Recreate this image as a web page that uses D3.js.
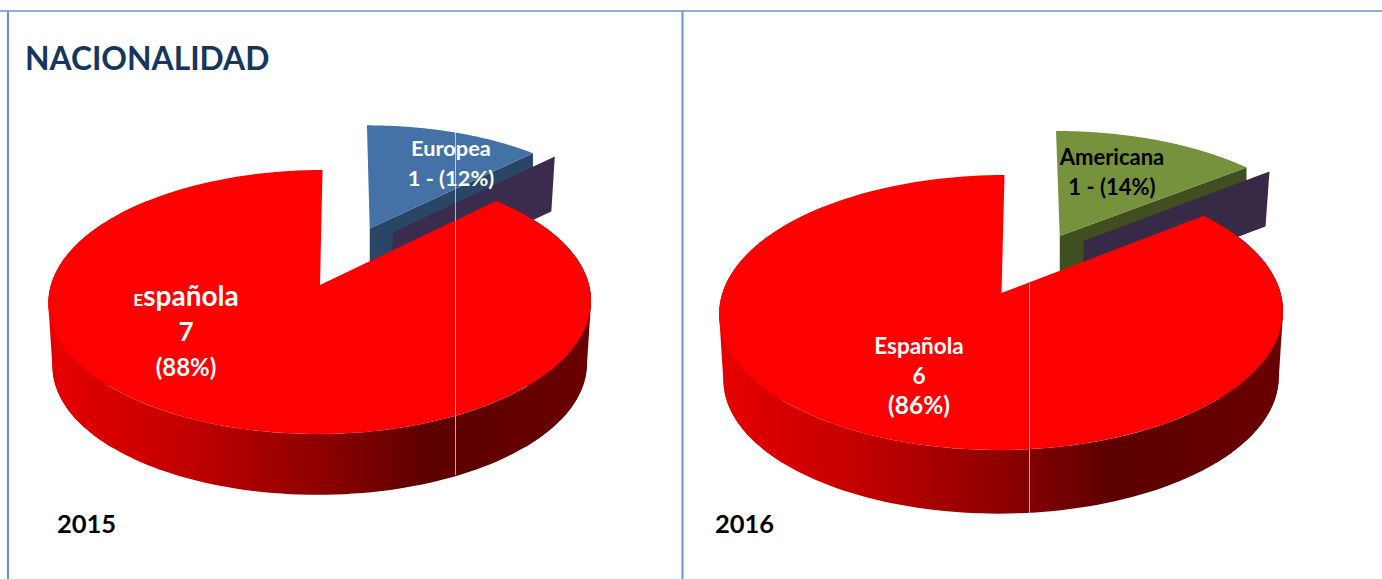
<!DOCTYPE html>
<html>
<head>
<meta charset="utf-8">
<script src="https://cdn.jsdelivr.net/npm/d3@7"></script>
<style>
  html, body { margin: 0; padding: 0; background: #fff; overflow: hidden; }
  text { font-family: Lato, "Open Sans", sans-serif; font-weight: 700; }
</style>
</head>
<body>
<div class="main"></div>
<script>
//Data
const title = 'NACIONALIDAD';
const years = ['2015', '2016'];
const categories2015 = ['Europea', 'Española'];
const values2015 = [1, 7];
const percents2015 = ['12%', '88%'];
const categories2016 = ['Americana', 'Española'];
const values2016 = [1, 6];
const percents2016 = ['14%', '86%'];

//Variables
const width = 1382, height = 579;
const lineColor = '#6a93cb';

const svg = d3.select('.main').append('svg')
  .attr('width', width)
  .attr('height', height)
  .style('display', 'block');

const defs = svg.append('defs');

//Panel lines
svg.append('line').attr('x1', 0).attr('x2', width).attr('y1', 11).attr('y2', 11)
  .attr('stroke', lineColor).attr('stroke-width', 1.5);
[8, 682.5].forEach(x => {
  svg.append('line').attr('x1', x).attr('x2', x).attr('y1', 11).attr('y2', height)
    .attr('stroke', lineColor).attr('stroke-width', 2);
});

//Pie drawn on a disc seen in perspective
function drawPie(cfg) {
  const {id, x0, y0, A, B, k, skew, depth, explode, cats, vals, pcts} = cfg;

  const project = (u, v, s = 1, dy = 0) => {
    const w = 1 - k * v;
    return [x0 - skew * v + s * B * u / w, y0 + dy + s * A * v / w];
  };
  const onRim = a => [Math.sin(a), -Math.cos(a)];
  const path = d3.line();
  const g = svg.append('g');

  const arcs = d3.pie().sort(null)(vals);
  const small = arcs[0], big = arcs[1];

  const rim = (a0, a1, ou = 0, ov = 0, s = 1, dy = 0) =>
    d3.range(0, 161).map(i => {
      const a = a0 + (a1 - a0) * i / 160;
      const [u, v] = onRim(a);
      return project(u + ou, v + ov, s, dy);
    });

  //Exploded slice
  const mid = (small.startAngle + small.endAngle) / 2;
  const [mu, mv] = onRim(mid);
  const ou = mu * explode, ov = mv * explode;
  const [eu, ev] = onRim(small.endAngle);

  //cut wall of the exploded slice
  g.append('path')
    .attr('d', path([
      project(ou, ov),
      project(ou + eu, ov + ev),
      project(ou + eu, ov + ev, 1, depth),
      project(ou, ov, 1, depth)
    ]) + 'Z')
    .attr('fill', cfg.wallColor);

  //top of the exploded slice
  g.append('path')
    .attr('d', path([project(ou, ov)].concat(rim(small.startAngle, small.endAngle, ou, ov))) + 'Z')
    .attr('fill', cfg.topColor);

  //dark back face showing behind the big slice
  const su = ou + cfg.backU, sv = ov + cfg.backV;
  g.append('path')
    .attr('d', path([
      project(su, sv),
      project(su + eu, sv + ev),
      project(su + eu, sv + ev, 0.985, cfg.backDepth),
      project(su, sv, 0.985, cfg.backDepth)
    ]) + 'Z')
    .attr('fill', cfg.backColor);

  //Big slice: outer wall with a horizontal gradient
  const grad = defs.append('linearGradient')
    .attr('id', id)
    .attr('gradientUnits', 'userSpaceOnUse')
    .attr('x1', x0 - B).attr('x2', x0 + B).attr('y1', 0).attr('y2', 0);
  [[0, '#e60000'], [0.25, '#c20000'], [0.5, '#8e0000'], [0.7, '#5c0000'], [1, '#6a0000']]
    .forEach(d => grad.append('stop').attr('offset', d[0]).attr('stop-color', d[1]));

  //front band, plus a hull on each side so the wall meets the top at its tangent
  const pi = Math.PI;
  const band = (a0, a1) => rim(a0, a1).concat(rim(a0, a1, 0, 0, 0.985, depth).reverse());
  const wallParts = [
    band(big.startAngle, pi * 1.75),
    d3.polygonHull(band(pi * 0.35, pi * 0.75)),
    d3.polygonHull(band(pi * 1.25, pi * 1.65))
  ];
  g.selectAll('path.wall')
    .data(wallParts)
    .enter()
    .append('path')
    .attr('class', 'wall')
    .attr('d', d => path(d) + 'Z')
    .attr('fill', `url(#${id})`);

  //top of the big slice
  g.append('path')
    .attr('d', path([project(0, 0)].concat(rim(big.startAngle, big.endAngle))) + 'Z')
    .attr('fill', '#ff0000');

  //Labels
  const bl = cfg.bigLabel;
  [cats[1], String(vals[1]), `(${pcts[1]})`].forEach((t, i) => {
    const label = g.append('text')
      .attr('x', bl.x).attr('y', bl.y + i * bl.step)
      .attr('text-anchor', 'middle')
      .attr('fill', '#fff')
      .attr('font-size', bl.sizes[i]);
    if (i === 0 && bl.smallFirst) {
      label.append('tspan').attr('font-size', bl.sizes[i] * 0.62).text(t[0]);
      label.append('tspan').text(t.slice(1));
    } else {
      label.text(t);
    }
  });

  const sl = cfg.smallLabel;
  [cats[0], `${vals[0]} - (${pcts[0]})`].forEach((t, i) => {
    g.append('text')
      .attr('x', sl.x).attr('y', sl.y + i * sl.step)
      .attr('text-anchor', 'middle')
      .attr('fill', sl.color)
      .attr('font-size', sl.size)
      .text(t);
  });

  //Year
  svg.append('text')
    .attr('x', cfg.yearX).attr('y', 533)
    .attr('font-size', 25.5)
    .attr('fill', '#000')
    .text(cfg.year);

  //Thin seam line over the picture
  svg.append('line')
    .attr('x1', cfg.seamX).attr('x2', cfg.seamX)
    .attr('y1', cfg.seamY[0]).attr('y2', cfg.seamY[1])
    .attr('stroke', '#fff').attr('stroke-opacity', 0.65).attr('stroke-width', 1);
}

drawPie({
  id: 'wall2015', year: years[0], yearX: 57,
  cats: categories2015, vals: values2015, pcts: percents2015,
  x0: 320, y0: 285, A: 129.8, B: 269, k: 0.129, skew: 2.5, depth: 63, explode: 0.5,
  topColor: '#4472a6', wallColor: '#2a4666', backColor: '#3b2b4d',
  backU: 0.09, backV: 0.035, backDepth: 53,
  bigLabel: {x: 186, y: 306, step: 35, sizes: [28, 26, 24], smallFirst: true},
  smallLabel: {x: 451, y: 156, step: 30, size: 21.8, color: '#fff'},
  seamX: 455.5, seamY: [12, 475]
});

drawPie({
  id: 'wall2016', year: years[1], yearX: 715,
  cats: categories2016, vals: values2016, pcts: percents2016,
  x0: 1001.5, y0: 293, A: 134.7, B: 279, k: 0.142, skew: 3, depth: 66, explode: 0.5,
  topColor: '#76923c', wallColor: '#414f20', backColor: '#372a47',
  backU: 0.09, backV: 0.04, backDepth: 53,
  bigLabel: {x: 919, y: 354, step: 30, sizes: [22.5, 22.5, 24.5], smallFirst: false},
  smallLabel: {x: 1112, y: 165, step: 30, size: 22, color: '#000'},
  seamX: 1029.5, seamY: [283, 513]
});

//Title
svg.append('text')
  .attr('x', 25).attr('y', 70)
  .attr('font-size', 31.8)
  .attr('fill', '#17365d')
  .text(title);
</script>
</body>
</html>
